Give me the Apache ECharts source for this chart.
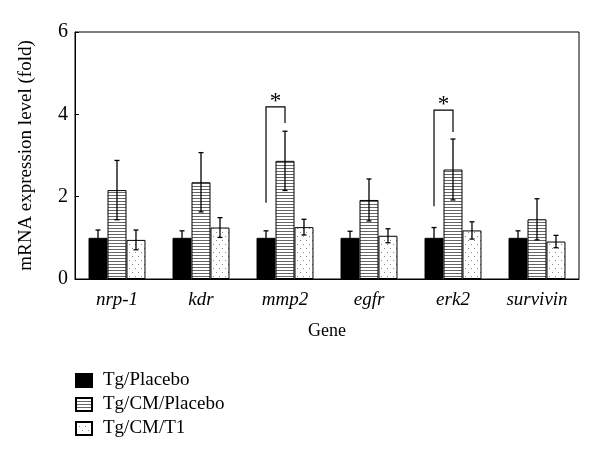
<!DOCTYPE html>
<html>
<head>
<meta charset="utf-8">
<script src="https://cdn.jsdelivr.net/npm/echarts@6/dist/echarts.min.js"></script>
<style>html,body{margin:0;padding:0;background:#fff}#c{width:600px;height:465px}</style>
</head>
<body>
<div id="c"></div>
<script>
const genes = ['nrp-1', 'kdr', 'mmp2', 'egfr', 'erk2', 'survivin'];
const seriesNames = ['Tg/Placebo', 'Tg/CM/Placebo', 'Tg/CM/T1'];
const placebo = [1.0, 1.0, 1.0, 1.0, 1.0, 1.0];
const placeboErr = [0.19, 0.17, 0.17, 0.16, 0.25, 0.17];
const cmPlacebo = [2.16, 2.35, 2.87, 1.92, 2.66, 1.45];
const cmPlaceboErr = [0.72, 0.72, 0.72, 0.51, 0.74, 0.50];
const cmT1 = [0.95, 1.25, 1.26, 1.05, 1.18, 0.91];
const cmT1Err = [0.24, 0.24, 0.19, 0.17, 0.21, 0.15];
// significance brackets: [category index, left foot, top, right foot]
const brackets = [[2, 1.85, 4.18, 3.79], [4, 1.77, 4.10, 3.57]];
const yTicks = [0, 2, 4, 6];

function makePattern(type) {
  const c = document.createElement('canvas');
  const ctx = c.getContext('2d');
  if (type === 'hatch') {
    c.width = 4; c.height = 3;
    ctx.fillStyle = '#fff'; ctx.fillRect(0, 0, 4, 3);
    ctx.fillStyle = '#666'; ctx.fillRect(0, 0, 4, 1);
  } else {
    c.width = 6; c.height = 8;
    ctx.fillStyle = '#fff'; ctx.fillRect(0, 0, 6, 8);
    ctx.fillStyle = '#8a8a8a';
    ctx.fillRect(0, 0, 1, 1);
    ctx.fillRect(3, 4, 1, 1);
  }
  return { image: c, repeat: 'repeat' };
}

const BW = 0.226;
const serif = '"Liberation Serif", "DejaVu Serif", serif';
const chart = echarts.init(document.getElementById('c'), null, { renderer: 'canvas' });

function errSeries(vals, errs, k) {
  return {
    type: 'custom',
    silent: true,
    z: 5,
    data: vals.map((v, i) => [i, v, errs[i]]),
    renderItem: function (params, api) {
      const i = api.value(0), v = api.value(1), e = api.value(2);
      const band = api.size([1, 0])[0];
      const x = api.coord([i, v])[0] + (k - 1) * BW * band;
      const yt = api.coord([i, v + e])[1];
      const yb = api.coord([i, v - e])[1];
      const cap = 2.5;
      const st = { stroke: '#000', lineWidth: 1.3 };
      return {
        type: 'group',
        children: [
          { type: 'line', shape: { x1: x, y1: yt, x2: x, y2: yb }, style: st },
          { type: 'line', shape: { x1: x - cap, y1: yt, x2: x + cap, y2: yt }, style: st },
          { type: 'line', shape: { x1: x - cap, y1: yb, x2: x + cap, y2: yb }, style: st }
        ]
      };
    }
  };
}

const colors = ['#000', makePattern('hatch'), makePattern('dots')];
const barData = [placebo, cmPlacebo, cmT1];

const option = {
  animation: false,
  backgroundColor: '#fff',
  grid: { left: 75, right: 21, top: 32, bottom: 186, show: true, borderColor: '#000', borderWidth: 1 },
  legend: {
    orient: 'vertical',
    left: 75, top: 371,
    padding: 0,
    icon: 'rect',
    itemWidth: 16, itemHeight: 13, itemGap: 5,
    data: seriesNames,
    textStyle: { fontFamily: serif, fontSize: 19, lineHeight: 19, color: '#000', padding: [0, 0, 0, 6] }
  },
  xAxis: {
    type: 'category',
    data: genes,
    name: 'Gene',
    nameLocation: 'middle',
    nameGap: 43,
    nameTextStyle: { fontFamily: serif, fontSize: 18, color: '#000' },
    axisLine: { lineStyle: { color: '#000', width: 1 } },
    axisTick: { inside: true, length: 4, lineStyle: { color: '#000' } },
    axisLabel: { fontFamily: serif, fontStyle: 'italic', fontSize: 19, color: '#000', margin: 11 }
  },
  yAxis: {
    type: 'value',
    min: 0, max: 6, interval: 2,
    name: 'mRNA expression level (fold)',
    nameLocation: 'middle',
    nameGap: 39,
    nameTextStyle: { fontFamily: serif, fontSize: 19, color: '#000' },
    axisLine: { show: true, lineStyle: { color: '#000', width: 1 } },
    axisTick: { show: true, inside: true, length: 4, lineStyle: { color: '#000' } },
    axisLabel: { fontFamily: serif, fontSize: 20, color: '#000', margin: 7,
      formatter: v => yTicks.indexOf(v) >= 0 ? String(v) : '' },
    splitLine: { show: false }
  },
  series: [
    ...barData.map((d, k) => ({
      name: seriesNames[k],
      type: 'bar',
      data: d,
      barWidth: (BW * 100) + '%',
      barGap: '0%',
      itemStyle: { color: colors[k], borderColor: '#000', borderWidth: 1 }
    })),
    errSeries(placebo, placeboErr, 0),
    errSeries(cmPlacebo, cmPlaceboErr, 1),
    errSeries(cmT1, cmT1Err, 2),
    {
      type: 'custom',
      silent: true,
      z: 6,
      data: brackets,
      renderItem: function (params, api) {
        const i = api.value(0);
        const band = api.size([1, 0])[0];
        const cx = api.coord([i, 0])[0];
        const xl = cx - BW * band, xr = cx;
        const yl = api.coord([i, api.value(1)])[1];
        const yt = api.coord([i, api.value(2)])[1];
        const yr = api.coord([i, api.value(3)])[1];
        return {
          type: 'group',
          children: [
            { type: 'polyline', shape: { points: [[xl, yl], [xl, yt], [xr, yt], [xr, yr]] },
              style: { stroke: '#000', lineWidth: 1.2, fill: null } },
            { type: 'text', style: { text: '*', x: (xl + xr) / 2, y: yt - 5, fontSize: 23,
              fontFamily: serif, fill: '#000', textAlign: 'center', textVerticalAlign: 'middle' } }
          ]
        };
      }
    }
  ]
};
chart.setOption(option);
</script>
</body>
</html>
